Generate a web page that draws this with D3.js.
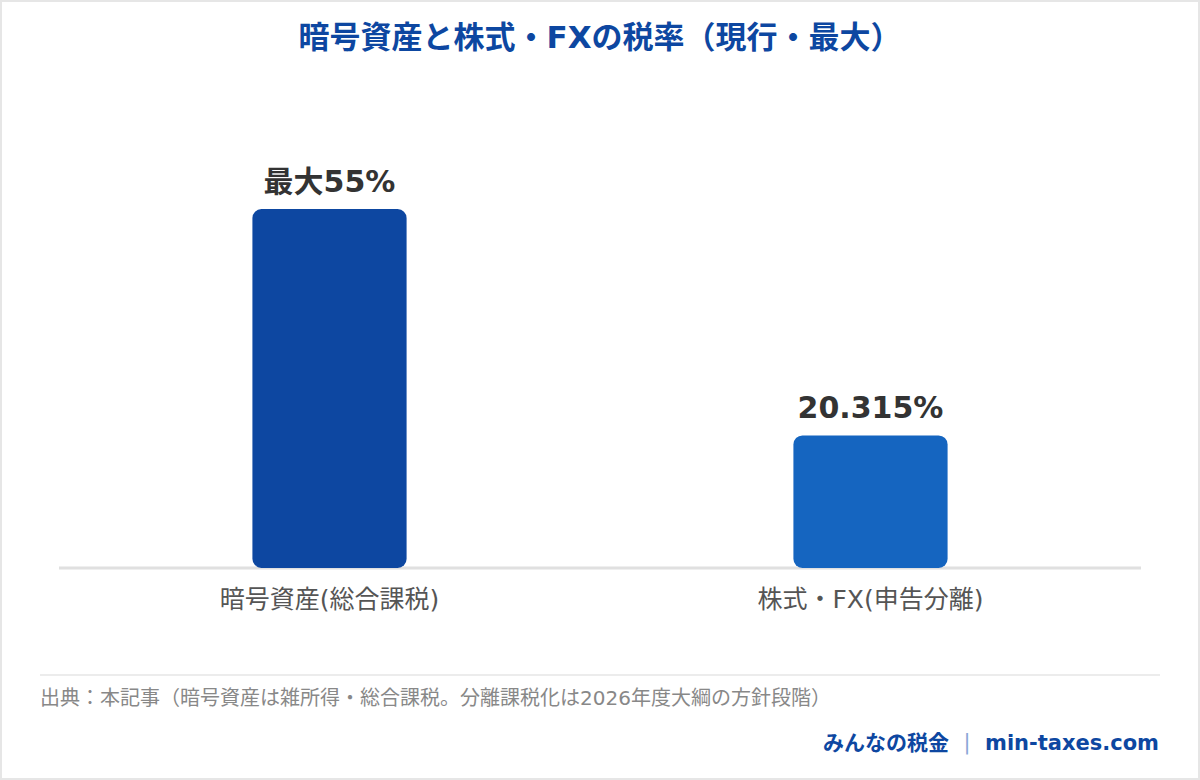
<!doctype html>
<html>
<head>
  <meta charset="utf-8">
  <title>暗号資産と株式・FXの税率</title>
  <script src="https://d3js.org/d3.v7.min.js"></script>
  <style>
    html, body {
      margin: 0;
      padding: 0;
      background: #fff;
    }

    #chart svg {
      display: block;
    }

    text {
      font-family: "DejaVu Sans", "Noto Sans CJK JP", sans-serif;
    }

    .title {
      font-weight: 700;
      font-size: 31px;
      fill: #0d47a1;
    }

    .value-label {
      font-weight: 700;
      font-size: 30px;
      fill: #333;
    }

    .cat-label {
      font-size: 25px;
      fill: #555;
    }

    .source {
      font-size: 20px;
      fill: #888;
    }

    .brand {
      font-weight: 700;
      font-size: 21px;
      fill: #0d47a1;
    }
  </style>
</head>
<body>
  <div id="chart"></div>

  <script>
    // data
    var categories = ["暗号資産(総合課税)", "株式・FX(申告分離)"];
    var rates = [55, 20.315];
    var valueLabels = ["最大55%", "20.315%"];
    var barColors = ["#0d47a1", "#1565c0"];

    var width = 1200;
    var height = 780;
    var left = 59, right = 1141;
    var baseline = 568;
    var top55 = 209; // where 55% ends

    var svg = d3.select("#chart")
      .append("svg")
      .attr("width", width)
      .attr("height", height);

    // outer frame
    svg.append("rect")
      .attr("x", 1)
      .attr("y", 1)
      .attr("width", width - 2)
      .attr("height", height - 2)
      .attr("fill", "#fff")
      .attr("stroke", "#e6e6e6")
      .attr("stroke-width", 2);

    svg.append("text")
      .attr("class", "title")
      .attr("x", width / 2)
      .attr("y", 48)
      .attr("text-anchor", "middle")
      .text("暗号資産と株式・FXの税率（現行・最大）");

    var x = d3.scaleBand()
      .domain(categories)
      .range([left, right])
      .paddingInner(0.715)
      .paddingOuter(0.3575);

    var y = d3.scaleLinear()
      .domain([0, 55])
      .range([baseline, top55]);

    // baseline
    svg.append("line")
      .attr("x1", left)
      .attr("x2", right)
      .attr("y1", baseline)
      .attr("y2", baseline)
      .attr("stroke", "#e0e0e0")
      .attr("stroke-width", 3);

    svg.selectAll("rect.bar")
      .data(rates)
      .enter()
      .append("rect")
      .attr("class", "bar")
      .attr("x", function(d, i) { return x(categories[i]); })
      .attr("y", function(d) { return y(d); })
      .attr("width", x.bandwidth())
      .attr("height", function(d) { return y(0) - y(d); })
      .attr("rx", 9)
      .attr("fill", function(d, i) { return barColors[i]; });

    svg.selectAll("text.value-label")
      .data(rates)
      .enter()
      .append("text")
      .attr("class", "value-label")
      .attr("x", function(d, i) { return x(categories[i]) + x.bandwidth() / 2; })
      .attr("y", function(d) { return y(d) - 17; })
      .attr("text-anchor", "middle")
      .text(function(d, i) { return valueLabels[i]; });

    svg.selectAll("text.cat-label")
      .data(categories)
      .enter()
      .append("text")
      .attr("class", "cat-label")
      .attr("x", function(d) { return x(d) + x.bandwidth() / 2; })
      .attr("y", 608)
      .attr("text-anchor", "middle")
      .text(function(d) { return d; });

    // footer
    svg.append("line")
      .attr("x1", 40)
      .attr("x2", 1160)
      .attr("y1", 675)
      .attr("y2", 675)
      .attr("stroke", "#ececec")
      .attr("stroke-width", 2);

    svg.append("text")
      .attr("class", "source")
      .attr("x", 40)
      .attr("y", 705)
      .text("出典：本記事（暗号資産は雑所得・総合課税。分離課税化は2026年度大綱の方針段階）");

    svg.append("text")
      .attr("class", "brand")
      .attr("x", 1159)
      .attr("y", 750)
      .attr("text-anchor", "end")
      .text("min-taxes.com");

    svg.append("text")
      .attr("class", "brand")
      .attr("x", 967)
      .attr("y", 749)
      .attr("text-anchor", "middle")
      .style("fill", "#8aa6d6")
      .style("font-weight", 400)
      .text("|");

    svg.append("text")
      .attr("class", "brand")
      .attr("x", 949)
      .attr("y", 750)
      .attr("text-anchor", "end")
      .text("みんなの税金");
  </script>
</body>
</html>
